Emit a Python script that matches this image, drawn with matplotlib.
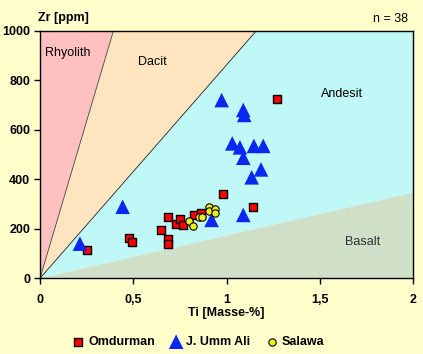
import numpy as np
import matplotlib
matplotlib.use('Agg')
import matplotlib.pyplot as plt
from matplotlib.ticker import FuncFormatter

plt.rcParams['font.family'] = ['Liberation Sans', 'DejaVu Sans']

# Omdurman
om_ti = [0.25, 0.477, 0.493, 0.647, 0.685, 0.685, 0.685, 0.729, 0.751, 0.765, 0.824, 0.862, 0.98, 1.14, 1.269]
om_zr = [114, 164, 147, 196, 249, 159, 137, 221, 238, 217, 254, 263, 341, 289, 724]
# J. Umm Ali
ua_ti = [0.214, 0.443, 0.92, 1.09, 0.974, 1.09, 1.095, 1.031, 1.072, 1.09, 1.147, 1.197, 1.185, 1.135]
ua_zr = [140, 289, 236, 256, 720, 680, 660, 545, 529, 487, 535, 535, 440, 408]
# Salawa
sa_ti = [0.801, 0.822, 0.854, 0.870, 0.908, 0.908, 0.940, 0.940]
sa_zr = [230, 210, 246, 246, 287, 273, 279, 265]

# field boundaries: Zr = slope * Ti
slope_rd = 2540
slope_da = 862
slope_ab = 173

bg = '#FFFFCC'
fig = plt.figure(figsize=(4.23, 3.54), dpi=100, facecolor=bg)
ax = fig.add_axes([40/423, (354-278.3)/354, 373/423, 247.5/354])

ax.fill([0, 0, 1000/slope_rd], [0, 1000, 1000], color='#FFC0C0', lw=0)
ax.fill([0, 1000/slope_rd, 1000/slope_da], [0, 1000, 1000], color='#FFE4C0', lw=0)
ax.fill([0, 1000/slope_da, 2, 2], [0, 1000, 1000, 2*slope_ab], color='#C0F8F8', lw=0)
ax.fill([0, 2, 2], [0, 2*slope_ab, 0], color='#D0E0C8', lw=0)
ax.plot([0, 1000/slope_rd], [0, 1000], color='#404040', lw=0.6)
ax.plot([0, 1000/slope_da], [0, 1000], color='#202020', lw=0.6)

ax.text(0.027, 910, 'Rhyolith', fontsize=9, va='center')
ax.text(0.60, 874, 'Dacit', fontsize=9, ha='center', va='center')
ax.text(1.62, 744, 'Andesit', fontsize=9, ha='center', va='center')
ax.text(1.73, 147, 'Basalt', fontsize=9, ha='center', va='center', color='#303030')

ax.scatter(om_ti, om_zr, marker='s', s=32, c='#FF0000', edgecolors='black', linewidths=1, zorder=3, label='Omdurman')
ax.scatter(ua_ti, ua_zr, marker='^', s=110, c='#0A28F0', edgecolors='none', zorder=3, label='J. Umm Ali')
ax.scatter(sa_ti, sa_zr, marker='o', s=28, c='#F0F020', edgecolors='black', linewidths=0.8, zorder=4, label='Salawa')

ax.set_xlim(0, 2)
ax.set_ylim(0, 1000)
ax.set_xticks([0, 0.5, 1, 1.5, 2])
ax.set_yticks([0, 200, 400, 600, 800, 1000])
ax.xaxis.set_major_formatter(FuncFormatter(lambda v, p: ('%g' % v).replace('.', ',')))
ax.tick_params(direction='out', length=4, width=1, labelsize=9, pad=7)
for lab in ax.get_xticklabels() + ax.get_yticklabels():
    lab.set_fontweight('bold')
ax.tick_params(axis='y', pad=3)
for s in ax.spines.values():
    s.set_linewidth(1)

fig.text(38/423, 1 - 18/354, 'Zr [ppm]', fontsize=9, fontweight='bold', va='center')
fig.text(408/423, 1 - 19/354, 'n = 38', fontsize=9, ha='right', va='center')
fig.text(226/423, 1 - 313/354, 'Ti [Masse-%]', fontsize=9, fontweight='bold', ha='center', va='center')

leg = fig.legend(loc='center', bbox_to_anchor=(198/423, 1 - 342/354), ncol=3, frameon=False,
                 prop={'weight': 'bold', 'size': 9}, handletextpad=0.3, columnspacing=1.2,
                 handlelength=1.0, scatterpoints=1)

fig.savefig('out.png', dpi=100, facecolor=bg)
